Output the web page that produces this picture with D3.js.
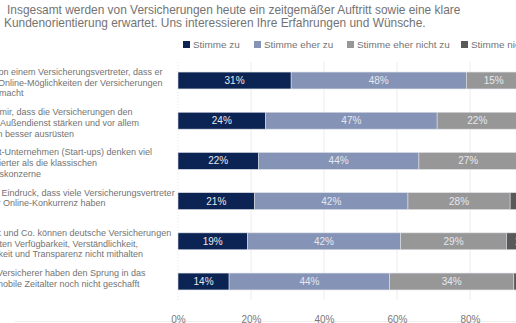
<!DOCTYPE html>
<html>
<head>
<meta charset="utf-8">
<script src="https://cdn.jsdelivr.net/npm/d3@7"></script>
<style>
  body { margin: 0; background: #fff; }
  svg { display: block; font-family: "Liberation Sans", Arial, sans-serif; }
</style>
</head>
<body>
<svg id="chart" width="516" height="323"></svg>
<script>
// survey answers, percent per statement
var series = ['Stimme zu', 'Stimme eher zu', 'Stimme eher nicht zu', 'Stimme nicht zu'];
var colors = ['#0b2454', '#8593b7', '#979797', '#595959'];
var categories = [
    ['Ich erwarte von einem Versicherungsvertreter, dass er', 'mich auf die Online-Möglichkeiten der Versicherungen', 'aufmerksam macht'],
    ['Ich wünsche mir, dass die Versicherungen den', 'persönlichen Außendienst stärken und vor allem', 'die Agenturen besser ausrüsten'],
    ['Neue Internet-Unternehmen (Start-ups) denken viel', 'kundenorientierter als die klassischen', 'Versicherungskonzerne'],
    ['Ich habe den Eindruck, dass viele Versicherungsvertreter', 'Angst vor der Online-Konkurrenz haben'],
    ['Mit Facebook und Co. können deutsche Versicherungen', 'bei den Punkten Verfügbarkeit, Verständlichkeit,', 'Übersichtlichkeit und Transparenz nicht mithalten'],
    ['Die meisten Versicherer haben den Sprung in das', 'digitale und mobile Zeitalter noch nicht geschafft']
];
var stimmeZu = [31, 24, 22, 21, 19, 14];
var eherZu = [48, 47, 44, 42, 42, 44];
var eherNicht = [15, 22, 27, 28, 29, 34];
var nichtZu = [6, 7, 7, 9, 10, 8];
var ticks = [0, 20, 40, 60, 80, 100];
var titleLines = [
    'Insgesamt werden von Versicherungen heute ein zeitgemäßer Auftritt sowie eine klare',
    'Kundenorientierung erwartet. Uns interessieren Ihre Erfahrungen und Wünsche.'
];

var svg = d3.select('#chart');

var x = d3.scaleLinear().domain([0, 100]).range([178, 543]);
var y = d3.scaleBand().domain(d3.range(categories.length)).range([62, 300]).paddingInner(0.58).paddingOuter(0.25);

// title
var title = svg.append('g').attr('fill', '#737373');
title.selectAll('text').data(titleLines).enter().append('text')
    .attr('x', function(d, i){ return i === 0 ? 7 : 4; })
    .attr('y', function(d, i){ return 14 + i * 12.5; })
    .style('font-size', '12px')
    .text(function(d){ return d; });
// fit first line width to the picture
var w0 = title.select('text').node().getComputedTextLength();
title.selectAll('text').style('font-size', (12 * 454 / w0) + 'px');

// gridlines
svg.append('g').selectAll('line').data(ticks.slice(1, 5)).enter().append('line')
    .attr('x1', x).attr('x2', x)
    .attr('y1', 62).attr('y2', 300)
    .attr('stroke', '#ececec').attr('stroke-width', 1);
svg.append('line')
    .attr('x1', x(0)).attr('x2', x(0)).attr('y1', 62).attr('y2', 300)
    .attr('stroke', '#e4e4e4').attr('stroke-dasharray', '1,2');
svg.append('line')
    .attr('x1', 15).attr('x2', 516).attr('y1', 321.5).attr('y2', 321.5)
    .attr('stroke', '#ededed');

// legend
var legend = svg.append('g').style('font-size', '9.9px');
var legendX = [183, 254, 347, 461];
series.forEach(function(s, i){
    legend.append('rect').attr('x', legendX[i]).attr('y', 41).attr('width', 7).attr('height', 7).attr('fill', colors[i]);
    legend.append('text').attr('x', legendX[i] + 10).attr('y', 48).attr('fill', '#737373').text(s);
});

// category labels, cut off on the left like the picture
var labels = svg.append('g').attr('fill', '#737373').style('font-size', '9px');
categories.forEach(function(lines, i){
    labels.append('text')
        .attr('x', -53)
        .attr('y', y(i) + 3)
        .selectAll('tspan').data(lines).enter().append('tspan')
        .attr('x', -53)
        .attr('dy', function(d, j){ return j === 0 ? 0 : 10.7; })
        .text(function(d){ return d; });
});

// stacked bars
var rows = categories.map(function(c, i){
    return [stimmeZu[i], eherZu[i], eherNicht[i], nichtZu[i]];
});
var stackData = rows.map(function(r, i){
    var acc = 0;
    return r.map(function(v, k){
        var seg = {row: i, k: k, x0: acc, x1: acc + v, v: v};
        acc += v;
        return seg;
    });
});
var bars = svg.append('g');
stackData.forEach(function(segs){
    var g = bars.append('g');
    g.selectAll('rect').data(segs).enter().append('rect')
        .attr('x', function(d){ return x(d.x0); })
        .attr('y', function(d){ return y(d.row); })
        .attr('width', function(d){ return x(d.x1) - x(d.x0); })
        .attr('height', y.bandwidth())
        .attr('fill', function(d){ return colors[d.k]; })
        .attr('stroke', '#dcdfe6').attr('stroke-width', 0.6);
    g.selectAll('text').data(segs).enter().append('text')
        .attr('x', function(d){ return (x(d.x0) + x(d.x1)) / 2; })
        .attr('y', function(d){ return y(d.row) + y.bandwidth() / 2 + 3.5; })
        .attr('text-anchor', 'middle')
        .attr('fill', '#e6e8ee')
        .style('font-size', '10px')
        .text(function(d){ return d.v + '%'; });
});

// x axis
var axis = svg.append('g').attr('transform', 'translate(0,316)')
    .call(d3.axisBottom(x).tickValues(ticks).tickSize(0).tickFormat(function(d){ return d + '%'; }));
axis.select('.domain').remove();
axis.selectAll('text').attr('y', 0).attr('fill', '#7a7a7a').style('font-size', '10px').style('font-family', '"Liberation Sans", Arial, sans-serif');
</script>
</body>
</html>
